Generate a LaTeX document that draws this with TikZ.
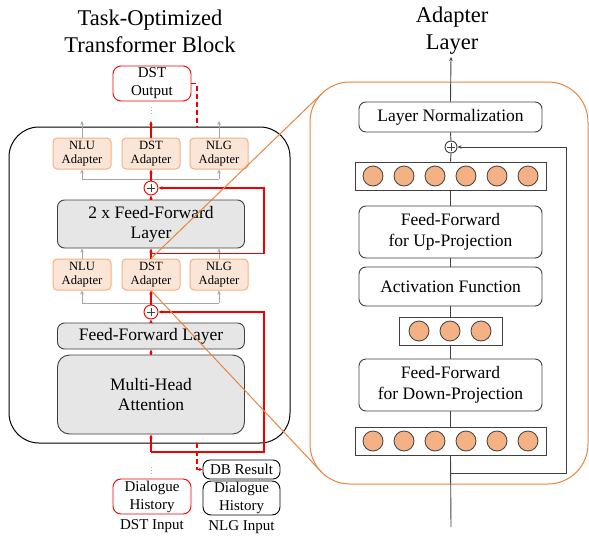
\documentclass[tikz,border=0pt]{standalone}
\usepackage{fontspec}
\setmainfont{Liberation Serif}
\usetikzlibrary{arrows.meta,calc}
\definecolor{adfill}{HTML}{FBE5D6}
\definecolor{adline}{HTML}{F4B183}
\definecolor{orangeline}{HTML}{E8843F}
\definecolor{greyfill}{HTML}{E6E6E6}
\definecolor{dk}{HTML}{404040}
\definecolor{circfill}{HTML}{F4B183}
\definecolor{redc}{HTML}{F20000}
\definecolor{greyc}{HTML}{A6A6A6}
\begin{document}
\begin{tikzpicture}[x=1pt,y=-1pt,
  arr/.style={-{Stealth[length=4pt,width=3.5pt]}},
  redline/.style={draw=redc,line width=1.1pt},
  greyline/.style={draw=greyc,line width=1pt},
  dkline/.style={draw=dk,line width=0.9pt},
  adapterbox/.style={draw=adline,fill=adfill,rounded corners=4pt,minimum width=58pt,minimum height=31pt,inner sep=0pt,align=center,font=\fontsize{12.6}{14.5}\selectfont,line width=1pt},
  greybox/.style={draw=dk,fill=greyfill,rounded corners=7pt,minimum width=187pt,inner sep=0pt,align=center,font=\fontsize{17.5}{20}\selectfont,line width=0.9pt},
  whitebox/.style={draw=dk,fill=white,rounded corners=7pt,minimum width=183pt,inner sep=0pt,align=center,font=\fontsize{17.5}{21}\selectfont,line width=0.9pt},
  iobox/.style={draw,fill=white,rounded corners=8pt,minimum width=78pt,minimum height=35pt,inner sep=0pt,align=center,font=\fontsize{15}{18}\selectfont,line width=0.9pt},
  plusnode/.style={circle,draw,fill=white,minimum size=14pt,inner sep=0pt,line width=0.9pt,
    path picture={\draw[line width=0.5pt,dk] ([xshift=-4pt]path picture bounding box.center) -- ([xshift=4pt]path picture bounding box.center) ([yshift=-4pt]path picture bounding box.center) -- ([yshift=4pt]path picture bounding box.center);}},
  vecbox/.style={draw=dk,fill=white,line width=0.9pt,inner sep=0pt},
  unit/.style={circle,draw=dk,fill=circfill,minimum size=20pt,inner sep=0pt,line width=0.8pt},
  titletext/.style={font=\fontsize{22.5}{27}\selectfont,align=center},
  labeltext/.style={font=\fontsize{15}{18}\selectfont}
]
\path[use as bounding box] (0,0) rectangle (589,536);

% titles
\node[titletext] (t1) at (150,31) {Task-Optimized\\Transformer Block};
\node[titletext] (t2) at (452,31) {Adapter\\Layer};

% ===== left block =====
\node[draw,rounded corners=30pt,line width=1pt,minimum width=281pt,minimum height=316pt,inner sep=0pt] (block) at (149.5,285) {};

\node[iobox,draw=redc] (dstout) at (152,83.5) {DST\\Output};

\node[adapterbox] (a1nlu) at (82,153.5) {NLU\\Adapter};
\node[adapterbox] (a1dst) at (151,153.5) {DST\\Adapter};
\node[adapterbox] (a1nlg) at (219,153.5) {NLG\\Adapter};

\node[plusnode,draw=redc] (p1) at (151,188) {};

\node[greybox,minimum height=48pt] (ff2) at (151,224) {2 x Feed-Forward\\Layer};

\node[adapterbox] (a2nlu) at (82,274.5) {NLU\\Adapter};
\node[adapterbox] (a2dst) at (151,274.5) {DST\\Adapter};
\node[adapterbox] (a2nlg) at (219,274.5) {NLG\\Adapter};

\node[plusnode,draw=redc] (p2) at (151,312) {};

\node[greybox,minimum height=26pt] (ff) at (151,336) {Feed-Forward Layer};
\node[greybox,minimum height=79pt,rounded corners=12pt] (mha) at (151,394.5) {Multi-Head\\Attention};

\node[iobox,draw=redc] (dsthist) at (152,496.5) {Dialogue\\History};
\node[iobox,minimum width=77pt,minimum height=19pt,rounded corners=7pt] (dbres) at (241.5,469.5) {DB Result};
\node[iobox,minimum width=77pt,minimum height=34pt] (nlghist) at (241.5,498) {Dialogue\\History};
\node[labeltext] (dstin) at (152,526) {DST Input};
\node[labeltext] (nlgin) at (241.5,527) {NLG Input};

% coordinates
\coordinate (o1) at (82,121);
\coordinate (o2) at (151,121);
\coordinate (o3) at (219,121);
\coordinate (dottop) at (151,107);
\coordinate (gl1) at (82,179);
\coordinate (gr1) at (219,179);
\coordinate (j1) at (151,253.5);
\coordinate (r1) at (264,253.5);
\coordinate (gl2) at (82,303);
\coordinate (gr2) at (219,303);
\coordinate (jin) at (151,452);
\coordinate (r2) at (264,452);
\coordinate (dotbot) at (151,467);
\coordinate (dt) at (197,127);
\coordinate (db) at (197,443);

% grey connections
\draw[greyline,arr] (a1nlu.north) -- (o1);
\draw[greyline,arr] (a1nlg.north) -- (o3);
\draw[greyline] (gl1) -- (gr1);
\draw[greyline,arr] (gl1) -- (a1nlu.south);
\draw[greyline,arr] (gr1) -- (a1nlg.south);
\draw[greyline,arr] (a2nlu.north) -- (a2nlu.north |- ff2.south);
\draw[greyline,arr] (a2nlg.north) -- (a2nlg.north |- ff2.south);
\draw[greyline] (gl2) -- (gr2);
\draw[greyline,arr] (gl2) -- (a2nlu.south);
\draw[greyline,arr] (gr2) -- (a2nlg.south);

% red path
\draw[redline,arr] (a1dst.north) -- (o2);
\draw[draw=greyc,line width=1pt,dotted] (dottop) -- ++(0,7);
\draw[redline,arr] (p1.north) -- (a1dst.south);
\draw[redline,arr] (ff2.north) -- (p1.south);
\draw[redline,arr] (j1) -- (r1) |- (p1.east);
\draw[redline,arr] (a2dst.north) -- (ff2.south);
\draw[redline,arr] (p2.north) -- (a2dst.south);
\draw[redline,arr] (ff.north) -- (p2.south);
\draw[redline,arr] (mha.north) -- (ff.south);
\draw[redline,arr] (jin) -- (mha.south);
\draw[redline,arr] (jin) -- (r2) |- (p2.east);
\draw[draw=greyc,line width=1pt,dotted] (dotbot) -- ++(0,8);
\draw[redline,dash pattern=on 5pt off 3pt] (dstout.east) -| (dt);
\draw[redline,dash pattern=on 5pt off 3pt,arr] (db) |- (dbres.west);

% ===== right: adapter layer =====
\node[draw=orangeline,rounded corners=40pt,line width=1pt,minimum width=278pt,minimum height=402pt,inner sep=0pt] (adbox) at (449,283) {};

\node[whitebox,minimum height=30pt] (ln) at (450.5,117) {Layer Normalization};
\node[plusnode,draw=dk,minimum size=12pt] (p3) at (451,147) {};
\node[vecbox,minimum width=191pt,minimum height=28pt] (v1) at (450.5,176) {};
\foreach \i/\x in {1/373,2/404,3/435,4/466,5/497,6/528}{\node[unit] (v1u\i) at (\x,176) {};}
\node[whitebox,minimum height=52pt] (ffup) at (450.5,232) {Feed-Forward\\for Up-Projection};
\node[whitebox,minimum height=39pt] (act) at (450.5,286.5) {Activation Function};
\node[vecbox,minimum width=103pt,minimum height=28pt] (v2) at (450.5,331) {};
\foreach \i/\x in {1/419,2/450,3/481}{\node[unit] (v2u\i) at (\x,331) {};}
\node[whitebox,minimum height=52pt] (ffdn) at (450.5,385) {Feed-Forward\\for Down-Projection};
\node[vecbox,minimum width=191pt,minimum height=28pt] (v3) at (450.5,441) {};
\foreach \i/\x in {1/373,2/404,3/435,4/466,5/497,6/528}{\node[unit] (v3u\i) at (\x,441) {};}

\coordinate (outtip) at (451,57);
\coordinate (inbot) at (451,527);
\coordinate (jr) at (451,473);
\coordinate (rr) at (566,473);

\draw[dkline,arr] (ln.north) -- (outtip);
\draw[dkline] (p3.north) -- (ln.south);
\draw[dkline] (v1.north) -- (p3.south);
\draw[dkline] (ffup.north) -- (v1.south);
\draw[dkline] (act.north) -- (ffup.south);
\draw[dkline] (v2.north) -- (act.south);
\draw[dkline] (ffdn.north) -- (v2.south);
\draw[dkline] (v3.north) -- (ffdn.south);
\draw[dkline] (inbot) -- (v3.south);
\draw[dkline,arr] (jr) -- (rr) |- (p3.east);

% zoom lines
\coordinate (zt) at (321.7,93.7);
\coordinate (zb) at (321.7,472.3);
\draw[draw=orangeline,line width=1pt] (a2dst.north) -- (zt);
\draw[draw=orangeline,line width=1pt] (a2dst.south) -- (zb);
\end{tikzpicture}
\end{document}
